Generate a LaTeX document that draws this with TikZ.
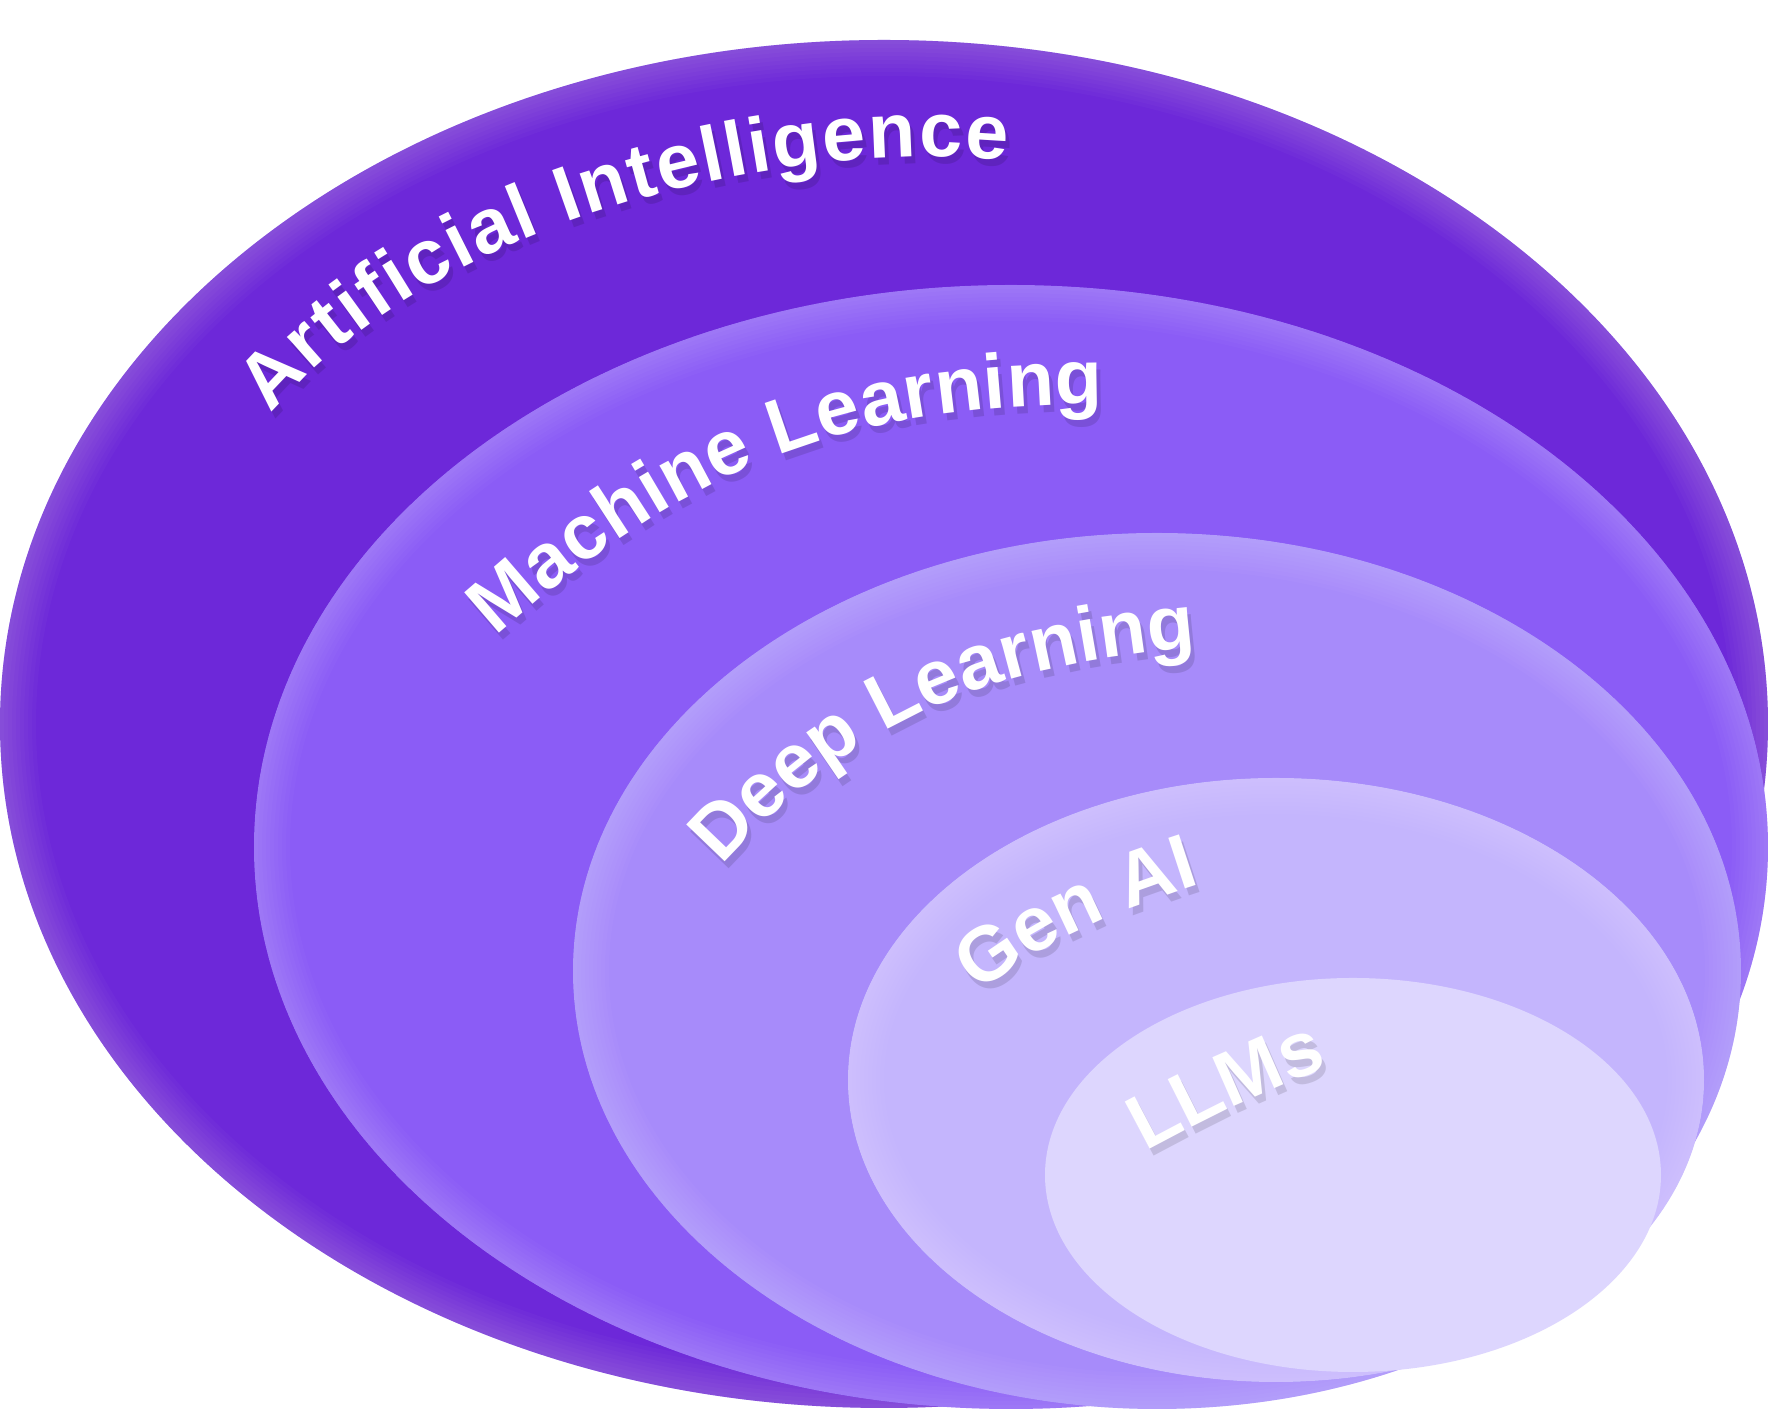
\documentclass[tikz,border=0pt]{standalone}
\usepackage{fontspec}
\setmainfont{Liberation Sans}
\usetikzlibrary{decorations.text}

\definecolor{violetA}{HTML}{6D28D9}
\definecolor{violetB}{HTML}{8B5CF6}
\definecolor{violetC}{HTML}{A78BFA}
\definecolor{violetD}{HTML}{C4B5FD}
\definecolor{violetE}{HTML}{DDD6FE}

\newcommand{\ringfont}{\fontsize{22}{26}\selectfont\bfseries\color{white}}
\newcommand{\shadefont}{\fontsize{22}{26}\selectfont\bfseries\color{black}}

% filled ellipse with a soft light rim inside
\newcommand{\violetring}[4]{%
  \fill[#4] (#1) ellipse[x radius=#2, y radius=#3];
  \begin{scope}
    \clip (#1) ellipse[x radius=#2, y radius=#3];
    \foreach \w in {0.08,0.16,...,0.8}
      \draw[white, opacity=0.025, line width=\w cm] (#1) ellipse[x radius=#2, y radius=#3];
  \end{scope}}

\begin{document}
\begin{tikzpicture}[
    x=0.01cm, y=0.01cm,
    ringtext/.style={decorate, decoration={text along path, text align=fit to path, text={|\ringfont|#1}}},
    ringshade/.style={decorate, decoration={text along path, text align=fit to path, text={|\shadefont|#1}}},
]
\useasboundingbox (0,0) rectangle (1768,1409);
\fill[white] (0,0) rectangle (1768,1409);

% centres of the nested sets
\coordinate (ai)  at (884,685);
\coordinate (ml)  at (1011,562);
\coordinate (dl)  at (1157,438);
\coordinate (gen) at (1276,329);
\coordinate (llm) at (1353,234);

% Rings, outer to inner
\violetring{ai}{884}{684}{violetA}
\violetring{ml}{757}{562}{violetB}
\violetring{dl}{584}{438}{violetC}
\violetring{gen}{428}{302}{violetD}
\violetring{llm}{308}{197}{violetE}

% Soft shadows under the labels
\begin{scope}[opacity=0.12, shift={(4,-7)}]
  \path[ringshade=Artificial Intelligence] (271,995) to[out=50, in=175, looseness=0.8] (1007,1249);
  \path[ringshade=Machine Learning] (496,772) to[out=42, in=180] (1103,1005);
  \path[ringshade=Deep Learning] (722,543) to[out=48, in=185] (1195,761);
  \path[ringshade=Gen AI] (978,416) to[out=36, in=198] (1198,524);
  \path[ringshade=LLMs] (1146,257) to[out=28, in=200] (1328,341);
\end{scope}

% Labels along the top of each ring
\path[ringtext=Artificial Intelligence] (271,995) to[out=50, in=175, looseness=0.8] (1007,1249);
\path[ringtext=Machine Learning] (496,772) to[out=42, in=180] (1103,1005);
\path[ringtext=Deep Learning] (722,543) to[out=48, in=185] (1195,761);
\path[ringtext=Gen AI] (978,416) to[out=36, in=198] (1198,524);
\path[ringtext=LLMs] (1146,257) to[out=28, in=200] (1328,341);

\end{tikzpicture}
\end{document}
